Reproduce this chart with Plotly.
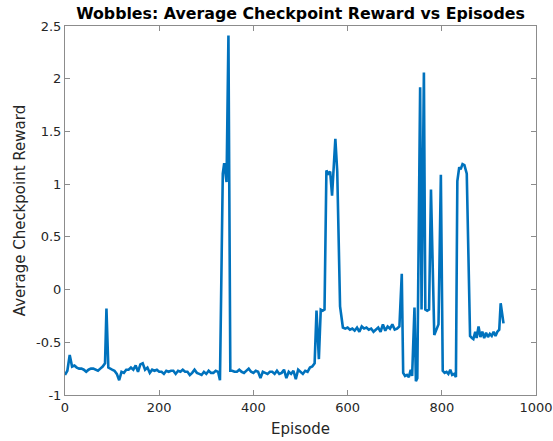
import plotly.graph_objects as go

episodes = [0, 5, 10, 15, 20, 25, 30, 35, 40, 45, 50, 55, 60, 65, 70, 75, 80, 85, 88, 92,
            95, 100, 105, 110, 115, 120, 125, 130, 135, 140, 145, 150, 155, 160, 165, 170, 175, 180, 185, 190,
            195, 200, 205, 210, 215, 220, 225, 230, 235, 240, 245, 250, 255, 260, 265, 270, 275, 280, 285, 290,
            295, 300, 305, 310, 315, 320, 325, 329, 335, 338, 343, 347, 351, 355, 360, 365, 370, 375, 380, 385,
            390, 395, 400, 405, 410, 415, 420, 425, 430, 435, 440, 445, 450, 455, 460, 465, 470, 475, 480, 485,
            490, 495, 500, 505, 510, 515, 520, 525, 530, 534, 539, 543, 547, 551, 555, 559, 563, 567, 574, 578,
            584, 590, 595, 600, 605, 610, 615, 620, 625, 630, 635, 640, 645, 650, 655, 660, 665, 670, 675, 680,
            685, 690, 695, 700, 705, 710, 715, 718, 722, 726, 730, 734, 737, 742, 745, 748, 754, 757, 762, 765,
            769, 773, 777, 784, 789, 793, 798, 802, 806, 810, 814, 818, 822, 826, 830, 833, 837, 840, 844, 848,
            853, 860, 864, 867, 871, 874, 878, 882, 886, 890, 894, 898, 902, 906, 910, 914, 918, 922, 925, 931]

reward = [-0.81, -0.77, -0.62, -0.73, -0.72, -0.74, -0.75, -0.75, -0.76, -0.78, -0.76, -0.75, -0.75, -0.76, -0.77, -0.75, -0.73, -0.70, -0.18, -0.74,
          -0.75, -0.76, -0.77, -0.80, -0.86, -0.78, -0.79, -0.76, -0.76, -0.74, -0.76, -0.72, -0.78, -0.71, -0.70, -0.76, -0.74, -0.79, -0.76, -0.77,
          -0.76, -0.78, -0.78, -0.80, -0.77, -0.78, -0.77, -0.77, -0.80, -0.77, -0.78, -0.76, -0.78, -0.78, -0.81, -0.79, -0.76, -0.79, -0.80, -0.81,
          -0.78, -0.80, -0.77, -0.79, -0.79, -0.77, -0.78, -0.86, 1.10, 1.20, 1.02, 2.41, -0.77, -0.77, -0.78, -0.78, -0.76, -0.78, -0.79, -0.77,
          -0.75, -0.78, -0.79, -0.77, -0.78, -0.84, -0.78, -0.79, -0.80, -0.78, -0.78, -0.80, -0.77, -0.80, -0.79, -0.76, -0.84, -0.78, -0.80, -0.77,
          -0.85, -0.76, -0.78, -0.80, -0.77, -0.78, -0.74, -0.73, -0.70, -0.20, -0.66, -0.19, -0.20, -0.19, 1.13, 1.10, 1.12, 0.89, 1.43, 1.12,
          -0.16, -0.36, -0.37, -0.36, -0.38, -0.37, -0.39, -0.36, -0.40, -0.35, -0.37, -0.36, -0.38, -0.37, -0.40, -0.38, -0.36, -0.40, -0.33, -0.39,
          -0.35, -0.37, -0.33, -0.38, -0.37, -0.35, 0.15, -0.79, -0.82, -0.81, -0.83, -0.76, -0.82, -0.17, -0.87, -0.84, 1.92, -0.19, 2.06, -0.19,
          -0.20, -0.19, 0.95, -0.43, -0.38, -0.33, 1.09, -0.77, -0.79, -0.78, -0.80, -0.76, -0.81, -0.80, -0.83, 1.03, 1.16, 1.14, 1.19, 1.18,
          1.10, -0.44, -0.46, -0.47, -0.40, -0.46, -0.35, -0.45, -0.40, -0.46, -0.41, -0.45, -0.42, -0.44, -0.40, -0.44, -0.40, -0.38, -0.13, -0.32]

x_ticks = [0, 200, 400, 600, 800, 1000]
x_labels = ["0", "200", "400", "600", "800", "1000"]
y_ticks = [-1, -0.5, 0, 0.5, 1, 1.5, 2, 2.5]
y_labels = ["-1", "-0.5", "0", "0.5", "1", "1.5", "2", "2.5"]

FONT = "DejaVu Sans"
AX = "#262626"

fig = go.Figure()
fig.add_trace(go.Scatter(x=episodes, y=reward, mode="lines",
                         line=dict(color="#0072BD", width=2.6), showlegend=False))

axis_common = dict(showgrid=False, zeroline=False, showline=True, linecolor="#8c8c8c", linewidth=1,
                   mirror="ticks", ticks="inside", ticklen=5, tickcolor="#8c8c8c", automargin=False,
                   tickfont=dict(family=FONT, size=13, color=AX))

fig.update_layout(
    width=553, height=441,
    margin=dict(l=65, r=17, t=26, b=46),
    paper_bgcolor="white", plot_bgcolor="white",
    title=dict(text="<b>Wobbles: Average Checkpoint Reward vs Episodes</b>",
               x=0.5434, xanchor="center", y=1 - 13 / 441, yanchor="middle", yref="container",
               font=dict(family=FONT, size=15.8, color="black")),
    xaxis=dict(range=[0, 1000], tickvals=x_ticks, ticktext=x_labels,
               title=dict(text="Episode", font=dict(family=FONT, size=15, color=AX), standoff=9),
               **axis_common),
    yaxis=dict(range=[-1, 2.5], tickvals=y_ticks, ticktext=y_labels,
               title=dict(text="Average Checkpoint Reward", font=dict(family=FONT, size=15, color=AX), standoff=6),
               **axis_common),
)

fig.write_html("out.html")
